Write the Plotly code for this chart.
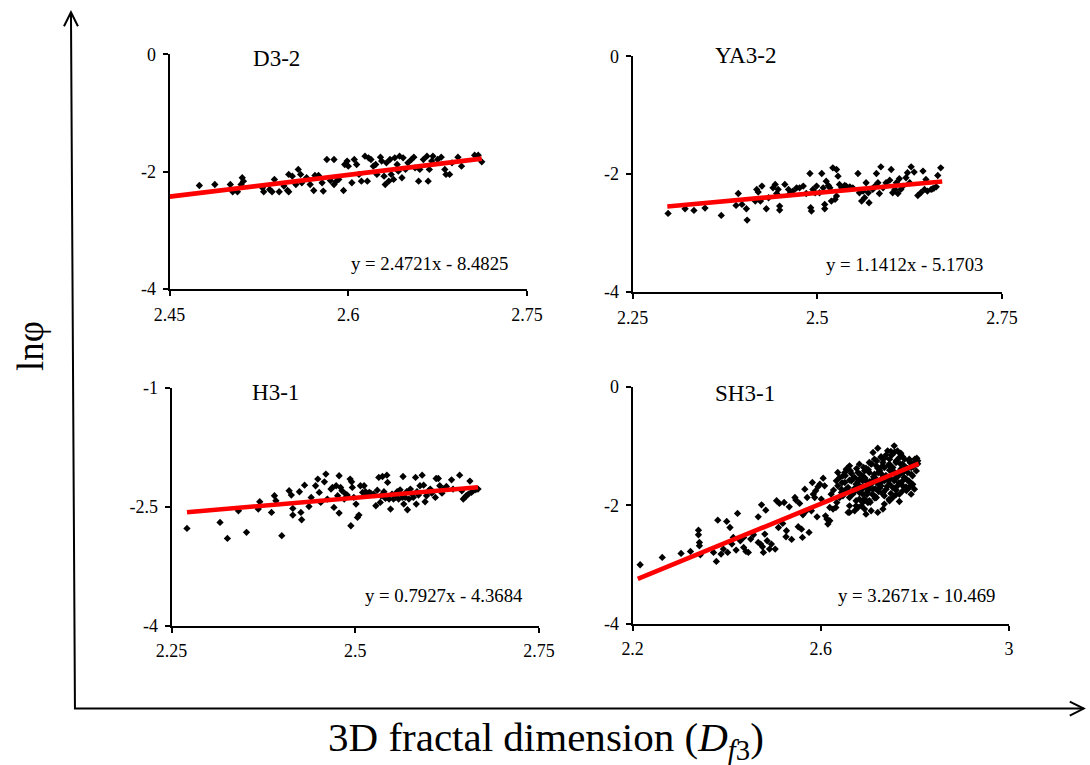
import plotly.graph_objects as go

# ---------------- data ----------------
d32_x = [2.475, 2.488, 2.501, 2.503, 2.507, 2.511, 2.512, 2.510, 2.528, 2.529, 2.534, 2.536, 2.538, 2.542, 2.546,
         2.550, 2.549, 2.550, 2.553, 2.556, 2.558, 2.560, 2.561, 2.565, 2.568, 2.571, 2.572, 2.575, 2.578, 2.579,
         2.582, 2.585, 2.588, 2.588, 2.590, 2.592, 2.596, 2.597, 2.599, 2.600, 2.603, 2.605, 2.607, 2.609, 2.611,
         2.614, 2.616, 2.617, 2.619, 2.621, 2.623, 2.624, 2.627, 2.628, 2.630, 2.631, 2.632, 2.634, 2.635, 2.636,
         2.638, 2.639, 2.641, 2.642, 2.643, 2.645, 2.646, 2.648, 2.650, 2.653, 2.655, 2.656, 2.659, 2.660, 2.663,
         2.666, 2.667, 2.668, 2.670, 2.671, 2.675, 2.678, 2.681, 2.682, 2.685, 2.687, 2.692, 2.695, 2.706, 2.709,
         2.712]
d32_y = [-2.236, -2.219, -2.219, -2.343, -2.343, -2.105, -2.162, -2.219, -2.275, -2.343, -2.304, -2.343, -2.133,
         -2.343, -2.247, -2.048, -2.321, -2.343, -2.077, -2.219, -1.963, -2.048, -2.190, -2.105, -2.219, -2.321,
         -2.065, -2.065, -2.190, -2.332, -1.793, -2.151, -1.793, -2.219, -2.162, -2.133, -2.321, -1.878, -1.821,
         -1.907, -2.190, -1.793, -1.878, -2.048, -2.162, -1.736, -2.162, -1.765, -1.793, -1.907, -1.878, -2.048,
         -1.753, -1.821, -2.077, -2.219, -1.850, -2.162, -1.793, -2.048, -2.133, -1.765, -1.878, -1.992, -1.736,
         -2.105, -1.765, -1.963, -1.850, -1.793, -1.753, -1.935, -2.162, -1.963, -1.793, -1.736, -2.162, -1.963,
         -1.821, -1.736, -1.793, -1.753, -1.963, -2.048, -2.048, -1.850, -1.753, -1.907, -1.719, -1.719, -1.833]

ya32_x = [2.298, 2.321, 2.333, 2.348, 2.370, 2.390, 2.393, 2.398, 2.404, 2.405, 2.416, 2.418, 2.420, 2.423, 2.425,
          2.431, 2.434, 2.440, 2.443, 2.445, 2.447, 2.449, 2.449, 2.456, 2.461, 2.463, 2.467, 2.472, 2.476, 2.481,
          2.485, 2.490, 2.491, 2.492, 2.494, 2.497, 2.499, 2.503, 2.506, 2.508, 2.510, 2.510, 2.512, 2.515, 2.517,
          2.519, 2.521, 2.524, 2.526, 2.526, 2.528, 2.530, 2.533, 2.537, 2.539, 2.544, 2.548, 2.555, 2.557, 2.560,
          2.562, 2.564, 2.566, 2.569, 2.570, 2.575, 2.578, 2.580, 2.582, 2.584, 2.586, 2.589, 2.593, 2.598, 2.600,
          2.602, 2.605, 2.607, 2.609, 2.611, 2.613, 2.616, 2.620, 2.622, 2.625, 2.627, 2.631, 2.636, 2.640, 2.643,
          2.645, 2.647, 2.649, 2.654, 2.656, 2.658, 2.661, 2.663, 2.667]
ya32_y = [-2.667, -2.588, -2.616, -2.576, -2.701, -2.531, -2.328, -2.514, -2.588, -2.780, -2.458, -2.260, -2.305,
          -2.458, -2.203, -2.588, -2.401, -2.232, -2.175, -2.328, -2.260, -2.542, -2.610, -2.175, -2.260, -2.328,
          -2.288, -2.232, -2.232, -2.203, -2.328, -1.989, -2.571, -2.627, -2.260, -2.316, -2.203, -2.316, -1.989,
          -2.232, -2.514, -2.588, -2.119, -2.192, -2.232, -2.458, -1.893, -2.429, -1.921, -2.373, -2.034, -2.175,
          -2.232, -2.192, -2.203, -2.215, -2.232, -1.989, -2.316, -2.458, -2.288, -2.401, -2.147, -2.316, -2.486,
          -2.260, -2.203, -1.989, -2.147, -2.328, -1.876, -2.232, -2.147, -2.102, -1.921, -2.316, -2.260, -2.147,
          -2.328, -2.079, -2.260, -2.203, -2.062, -1.977, -2.147, -1.876, -1.966, -2.362, -2.316, -1.949, -2.260,
          -2.090, -2.288, -2.260, -2.249, -2.237, -2.215, -2.023, -1.893]

h31_x = [2.271, 2.316, 2.326, 2.341, 2.352, 2.368, 2.370, 2.386, 2.390, 2.392, 2.400, 2.410, 2.413, 2.415, 2.415,
         2.424, 2.426, 2.427, 2.431, 2.437, 2.440, 2.446, 2.449, 2.451, 2.453, 2.458, 2.460, 2.462, 2.467, 2.469,
         2.471, 2.474, 2.476, 2.478, 2.478, 2.480, 2.482, 2.485, 2.487, 2.489, 2.493, 2.494, 2.495, 2.496, 2.498,
         2.501, 2.503, 2.505, 2.507, 2.510, 2.512, 2.514, 2.516, 2.519, 2.521, 2.525, 2.528, 2.530, 2.532, 2.534,
         2.535, 2.537, 2.539, 2.541, 2.543, 2.544, 2.546, 2.548, 2.550, 2.552, 2.555, 2.557, 2.559, 2.561, 2.564,
         2.565, 2.566, 2.568, 2.570, 2.571, 2.573, 2.575, 2.577, 2.579, 2.582, 2.583, 2.584, 2.586, 2.588, 2.591,
         2.593, 2.595, 2.597, 2.600, 2.602, 2.604, 2.609, 2.610, 2.613, 2.615, 2.618, 2.620, 2.624, 2.631, 2.633,
         2.642, 2.645, 2.647, 2.649, 2.651, 2.654, 2.656, 2.658, 2.660, 2.663, 2.665, 2.667]
h31_y = [-2.773, -2.697, -2.899, -2.550, -2.823, -2.529, -2.437, -2.571, -2.361, -2.424, -2.865, -2.298, -2.353,
         -2.521, -2.605, -2.311, -2.571, -2.664, -2.227, -2.496, -2.382, -2.235, -2.151, -2.319, -2.445, -2.185,
         -2.088, -2.403, -2.277, -2.256, -2.508, -2.235, -2.361, -2.109, -2.580, -2.256, -2.298, -2.403, -2.340,
         -2.353, -2.151, -2.739, -2.185, -2.256, -2.382, -2.466, -2.634, -2.605, -2.235, -2.319, -2.235, -2.311,
         -2.340, -2.319, -2.328, -2.340, -2.487, -2.290, -2.130, -2.445, -2.361, -2.118, -2.311, -2.395, -2.101,
         -2.193, -2.403, -2.529, -2.340, -2.403, -2.382, -2.311, -2.403, -2.286, -2.382, -2.118, -2.466, -2.382,
         -2.311, -2.538, -2.403, -2.277, -2.340, -2.382, -2.130, -2.466, -2.311, -2.353, -2.235, -2.101, -2.227,
         -2.437, -2.361, -2.298, -2.277, -2.328, -2.382, -2.143, -2.143, -2.235, -2.328, -2.277, -2.244, -2.160,
         -2.277, -2.101, -2.298, -2.403, -2.382, -2.361, -2.340, -2.176, -2.319, -2.298, -2.286, -2.277, -2.277]

sh31_x = [2.216, 2.263, 2.303, 2.323, 2.340, 2.340, 2.342, 2.342, 2.344, 2.372, 2.378, 2.381, 2.388, 2.393, 2.400,
          2.402, 2.407, 2.411, 2.414, 2.420, 2.423, 2.429, 2.436, 2.436, 2.441, 2.446, 2.451, 2.457, 2.467, 2.467,
          2.472, 2.476, 2.478, 2.481, 2.474, 2.483, 2.486, 2.491, 2.495, 2.503, 2.506, 2.510, 2.512, 2.519, 2.522,
          2.526, 2.527, 2.533, 2.538, 2.545, 2.547, 2.552, 2.555, 2.559, 2.561, 2.562, 2.566, 2.568, 2.571, 2.575,
          2.580, 2.582, 2.584, 2.587, 2.589, 2.592, 2.594, 2.598, 2.601, 2.605, 2.608, 2.610, 2.613, 2.615, 2.619,
          2.619, 2.622, 2.626, 2.627, 2.632, 2.634, 2.636, 2.640, 2.644, 2.647, 2.651, 2.654, 2.658, 2.661, 2.665,
          2.668, 2.672, 2.675, 2.679, 2.682, 2.686, 2.689, 2.693, 2.696, 2.700, 2.703,
          2.721, 2.756, 2.711, 2.739, 2.763, 2.788, 2.804, 2.774, 2.746, 2.728, 2.661, 2.682, 2.703, 2.718, 2.732,
          2.746, 2.760, 2.774, 2.788, 2.799, 2.696, 2.721, 2.753, 2.781, 2.654, 2.636, 2.647, 2.665, 2.679, 2.689,
          2.703, 2.714, 2.725, 2.739, 2.753, 2.767, 2.785, 2.795, 2.640, 2.672, 2.732, 2.760, 2.777, 2.633, 2.651,
          2.661, 2.675, 2.689, 2.700, 2.711, 2.721, 2.735, 2.746, 2.756, 2.770, 2.787, 2.682, 2.728, 2.763, 2.644,
          2.658, 2.672, 2.686, 2.698, 2.711, 2.723, 2.739, 2.749, 2.760, 2.774, 2.788, 2.732, 2.695, 2.709, 2.661,
          2.682, 2.703, 2.718, 2.735, 2.753, 2.767, 2.792, 2.689, 2.746, 2.675, 2.693, 2.707, 2.721, 2.732, 2.696,
          2.661, 2.707, 2.735, 2.770, 2.792, 2.802, 2.693, 2.728, 2.746, 2.777, 2.718, 2.742, 2.774, 2.795, 2.707,
          2.682, 2.753, 2.781, 2.725, 2.767, 2.714, 2.799, 2.806, 2.767, 2.714, 2.749, 2.770,
          2.645, 2.652, 2.658, 2.663, 2.668, 2.670, 2.676, 2.679, 2.684, 2.687, 2.691, 2.694, 2.698, 2.701, 2.704,
          2.708, 2.712, 2.716, 2.719, 2.722, 2.726, 2.729, 2.733, 2.736, 2.738, 2.741, 2.744, 2.748, 2.751, 2.754,
          2.757, 2.760, 2.763, 2.766, 2.769, 2.772, 2.775, 2.778, 2.781, 2.784, 2.787, 2.790, 2.793, 2.796, 2.800,
          2.803, 2.806, 2.757, 2.742, 2.770, 2.728, 2.715, 2.745, 2.705, 2.690, 2.735, 2.760, 2.782, 2.795, 2.650]
sh31_y = [-3.005, -2.881, -2.813, -2.780, -2.420, -2.498, -2.628, -2.684, -2.836, -2.797, -2.948, -2.251, -2.825,
          -2.740, -2.273, -2.797, -2.375, -2.656, -2.543, -2.757, -2.138, -2.600, -2.543, -2.712, -2.780, -2.797,
          -2.571, -2.498, -2.195, -2.628, -2.656, -2.701, -2.797, -2.487, -1.992, -2.082, -2.600, -2.740, -2.656,
          -2.740, -1.924, -2.375, -1.969, -2.307, -1.953, -2.532, -2.431, -2.026, -2.577, -1.868, -1.913, -2.363,
          -1.969, -2.403, -2.543, -2.161, -1.728, -2.104, -1.868, -2.459, -2.093, -1.615, -1.812, -1.868, -1.756,
          -2.195, -1.688, -1.643, -1.896, -1.542, -1.671, -2.178, -2.234, -2.318, -2.262, -2.037, -1.812, -2.065,
          -1.744, -2.037, -1.953, -1.671, -1.868, -1.784, -1.840, -1.446, -1.728, -2.121, -2.009, -1.587, -1.812,
          -2.093, -1.924, -2.037, -1.784, -2.009, -1.812, -1.896, -1.587, -1.953, -1.728,
          -1.036, -0.996, -1.109, -1.148, -1.081, -1.221, -1.204, -1.182, -1.221, -1.193, -1.334, -1.306, -1.277,
          -1.334, -1.277, -1.306, -1.277, -1.306, -1.249, -1.277, -1.373, -1.373, -1.362, -1.362, -1.390, -1.446,
          -1.503, -1.463, -1.446, -1.503, -1.446, -1.474, -1.418, -1.503, -1.446, -1.474, -1.446, -1.503, -1.531,
          -1.531, -1.531, -1.531, -1.531, -1.587, -1.615, -1.576, -1.643, -1.587, -1.643, -1.576, -1.632, -1.587,
          -1.643, -1.587, -1.632, -1.587, -1.559, -1.671, -1.671, -1.728, -1.756, -1.711, -1.744, -1.784, -1.728,
          -1.767, -1.728, -1.801, -1.744, -1.756, -1.699, -1.812, -1.699, -1.812, -1.868, -1.896, -1.924, -1.868,
          -1.840, -1.868, -1.936, -1.812, -1.953, -1.924, -2.009, -2.065, -2.093, -2.121, -2.065, -2.150, -2.121,
          -1.306, -1.362, -1.390, -1.362, -1.306, -1.418, -1.463, -1.407, -1.429, -1.559, -1.576, -1.587, -1.643,
          -1.643, -1.671, -1.699, -1.688, -1.711, -1.812, -1.840, -1.728, -1.249, -1.193, -1.221, -1.092, -1.137,
          -1.620, -1.500, -1.700, -1.420, -1.550, -1.780, -1.380, -1.600, -1.480, -1.700, -1.360, -1.540, -1.820,
          -1.400, -1.600, -1.300, -1.520, -1.720, -1.250, -1.450, -1.620, -1.350, -1.780, -1.200, -1.500, -1.680,
          -1.320, -1.550, -1.150, -1.420, -1.720, -1.250, -1.520, -1.620, -1.300, -1.450, -1.680, -1.220, -1.550,
          -1.380, -1.600, -1.280, -1.480, -1.350, -1.220, -1.420, -1.300, -1.100, -1.080, -1.120, -1.180, -1.880,
          -1.900, -1.950, -1.920, -1.980, -1.820, -1.750, -1.650, -1.800]

panel_names = ["D3-2", "YA3-2", "H3-1", "SH3-1"]
slopes = [2.4721, 1.1412, 0.7927, 3.2671]
intercepts = [-8.4825, -5.1703, -4.3684, -10.469]
fit_x_ranges = [[2.45, 2.712], [2.297, 2.669], [2.271, 2.667], [2.211, 2.808]]
equations = ["y = 2.4721x - 8.4825", "y = 1.1412x - 5.1703", "y = 0.7927x - 4.3684", "y = 3.2671x - 10.469"]
x_ranges = [[2.45, 2.75], [2.25, 2.75], [2.25, 2.75], [2.2, 3.0]]
x_tickvals = [[2.45, 2.6, 2.75], [2.25, 2.5, 2.75], [2.25, 2.5, 2.75], [2.2, 2.6, 3.0]]
x_ticktext = [["2.45", "2.6", "2.75"], ["2.25", "2.5", "2.75"], ["2.25", "2.5", "2.75"], ["2.2", "2.6", "3"]]
y_ranges = [[-4, 0], [-4, 0], [-4, -1], [-4, 0]]
y_tickvals = [[-4, -2, 0], [-4, -2, 0], [-4, -2.5, -1], [-4, -2, 0]]
y_ticktext = [["-4", "-2", "0"], ["-4", "-2", "0"], ["-4", "-2.5", "-1"], ["-4", "-2", "0"]]
y_title = "lnφ"
x_title = "3D fractal dimension (<i>D</i><sub><i>f</i>3</sub>)"

series_x = [d32_x, ya32_x, h31_x, sh31_x]
series_y = [d32_y, ya32_y, h31_y, sh31_y]

# ---------------- layout geometry ----------------
# target positions are given in pixels of the final 1090x765 picture;
# the photographed page appears scaled by ~0.975 with a small offset,
# so positions and sizes are mapped back into figure pixels.
W, H = 1100, 768
S = 0.975
OX, OY = 12.8, 8.7
FONT = "Liberation Serif"

def px(x):
    return ((x - OX) / S) / W

def py(y):
    return 1 - ((y - OY) / S) / H

def fs(size):
    return size / S

# panel boxes: (left, right, top, bottom) in picture pixels
boxes = [(167, 526, 53, 288), (632, 1003, 55, 291), (169, 538, 387, 625), (632, 1010, 386, 623)]
title_pos = [(274, 57), (746, 54), (273, 391), (745, 392)]
eq_pos = [(428, 262), (905, 263), (443, 595), (917, 595)]

fig = go.Figure()
layout = dict(
    width=W, height=H, autosize=False,
    margin=dict(l=0, r=0, t=0, b=0),
    paper_bgcolor="white", plot_bgcolor="white",
    showlegend=False,
    font=dict(family=FONT, color="black"),
)
annotations = []
for i in range(4):
    sfx = "" if i == 0 else str(i + 1)
    xa, ya = "x" + sfx, "y" + sfx
    fig.add_trace(go.Scatter(
        x=series_x[i], y=series_y[i], mode="markers", xaxis=xa, yaxis=ya,
        marker=dict(symbol="diamond", size=fs(5.5), color="black"), hoverinfo="skip"))
    fx = fit_x_ranges[i]
    fy = [slopes[i] * v + intercepts[i] for v in fx]
    fig.add_trace(go.Scatter(
        x=fx, y=fy, mode="lines", xaxis=xa, yaxis=ya,
        line=dict(color="#ff0000", width=fs(4.5)), hoverinfo="skip"))
    l, r, t, b = boxes[i]
    axis_common = dict(
        showline=True, linecolor="black", linewidth=2,
        ticks="outside", ticklen=5, tickwidth=1.5, tickcolor="black",
        ticklabelstandoff=3,
        showgrid=False, zeroline=False,
        tickfont=dict(family=FONT, size=fs(17.5), color="black"))
    layout["xaxis" + sfx] = dict(
        domain=[px(l), px(r)], range=x_ranges[i], anchor=ya,
        tickvals=x_tickvals[i], ticktext=x_ticktext[i], **axis_common)
    layout["yaxis" + sfx] = dict(
        domain=[py(b), py(t)], range=y_ranges[i], anchor=xa,
        tickvals=y_tickvals[i], ticktext=y_ticktext[i], **axis_common)
    tx, ty = title_pos[i]
    annotations.append(dict(x=px(tx), y=py(ty), xref="paper", yref="paper", text=panel_names[i],
                            showarrow=False, xanchor="center", yanchor="middle",
                            font=dict(family=FONT, size=fs(22.5), color="black")))
    ex, ey = eq_pos[i]
    annotations.append(dict(x=px(ex), y=py(ey), xref="paper", yref="paper", text=equations[i],
                            showarrow=False, xanchor="center", yanchor="middle",
                            font=dict(family=FONT, size=fs(18.3), color="black")))

annotations.append(dict(x=px(28), y=py(345), xref="paper", yref="paper", text=y_title, textangle=-90,
                        showarrow=False, xanchor="center", yanchor="middle",
                        font=dict(family=FONT, size=fs(36), color="black")))
annotations.append(dict(x=px(545), y=py(739), xref="paper", yref="paper", text=x_title,
                        showarrow=False, xanchor="center", yanchor="middle",
                        font=dict(family=FONT, size=fs(40), color="black")))
layout["annotations"] = annotations

def path(points):
    return "M " + " L ".join(f"{px(a):.5f},{py(b):.5f}" for a, b in points)

shape_style = dict(type="path", xref="paper", yref="paper", line=dict(color="black", width=2))
layout["shapes"] = [
    dict(path=path([(68, 11), (72, 708), (1085, 708)]), **shape_style),
    dict(path=path([(61, 25), (68, 11), (75, 25)]), **shape_style),
    dict(path=path([(1071, 701), (1085, 708), (1071, 715)]), **shape_style),
]

fig.update_layout(**layout)
fig.write_html("out.html")
